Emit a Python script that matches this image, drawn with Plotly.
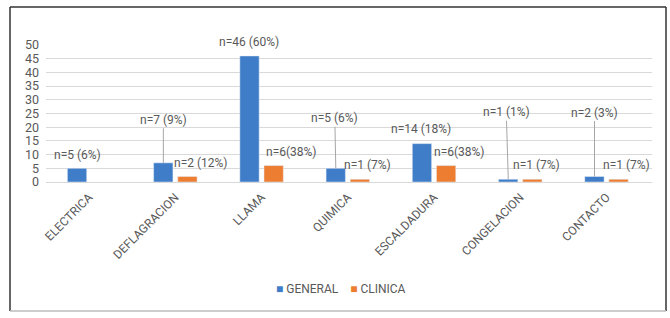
import plotly.graph_objects as go

categories = ["ELECTRICA", "DEFLAGRACION", "LLAMA", "QUIMICA", "ESCALDADURA", "CONGELACION", "CONTACTO"]
general = [5, 7, 46, 5, 14, 1, 2]
clinica = [None, 2, 6, 1, 6, 1, 1]
general_labels = ["n=5 (6%)", "n=7 (9%)", "n=46 (60%)", "n=5 (6%)", "n=14 (18%)", "n=1 (1%)", "n=2 (3%)"]
clinica_labels = [None, "n=2 (12%)", "n=6(38%)", "n=1 (7%)", "n=6(38%)", "n=1 (7%)", "n=1 (7%)"]
series_names = ["GENERAL", "CLINICA"]

BLUE = "#3F7DC9"
ORANGE = "#ED7D31"
TXT = "#595959"
FONT = "Roboto"

fig = go.Figure()
fig.add_trace(go.Bar(name=series_names[0], x=categories, y=general, marker_color=BLUE))
fig.add_trace(go.Bar(name=series_names[1], x=categories, y=clinica, marker_color=ORANGE))

gen_place = {  # idx: (xshift_from_bar, yshift_or_ay, leader)
    0: (0, 13, False),
    1: (0, -43, True),
    2: (-1, 14, False),
    3: (-1, -50, True),
    4: (-1, 15, False),
    5: (-2, -67, True),
    6: (0, -64, True),
}
cli_place = {
    1: (14, 13.5),
    2: (18, 13.5),
    3: (8, 14),
    4: (13, 13.5),
    5: (4, 14),
    6: (8, 14),
}

ann = []
for i, c in enumerate(categories):
    dx, dy, leader = gen_place[i]
    if leader:
        ann.append(dict(x=c, y=general[i], xref="x", yref="y", text=general_labels[i],
                        xshift=-12, showarrow=True, arrowhead=0, arrowwidth=1,
                        arrowcolor="#A6A6A6", ax=dx, ay=dy, standoff=0,
                        font=dict(family=FONT, size=12, color=TXT)))
    else:
        ann.append(dict(x=c, y=general[i], xref="x", yref="y", text=general_labels[i],
                        xshift=-12 + dx, yshift=dy, showarrow=False, yanchor="middle",
                        font=dict(family=FONT, size=12, color=TXT)))
    if clinica_labels[i] is not None:
        dx2, dy2 = cli_place[i]
        ann.append(dict(x=c, y=clinica[i], xref="x", yref="y", text=clinica_labels[i],
                        xshift=12 + dx2, yshift=dy2, showarrow=False, yanchor="middle",
                        font=dict(family=FONT, size=12, color=TXT)))

L, R, T, B = 46, 18, 45, 136
pw, ph = 670 - L - R, 318 - T - B


def px(xp):
    return (xp - L) / pw


def py(yp):
    return (318 - B - yp) / ph


# custom legend as text
legend_text = (f'<span style="color:{BLUE}">■</span> {series_names[0]}'
               f'&nbsp;&nbsp;&nbsp;&nbsp;<span style="color:{ORANGE}">■</span> {series_names[1]}')
ann.append(dict(x=px(341), y=py(289), xref="paper", yref="paper", text=legend_text, showarrow=False,
                xanchor="center", yanchor="middle",
                font=dict(family=FONT, size=12, color=TXT)))

box_l, box_r, box_t, box_b = 10, 666, 7, 311
shapes = [
    dict(type="line", xref="paper", yref="paper", x0=px(box_l), x1=px(box_l), y0=py(box_t), y1=py(box_b),
         line=dict(color="#333333", width=1.5)),
    dict(type="line", xref="paper", yref="paper", x0=px(box_r), x1=px(box_r), y0=py(box_t), y1=py(box_b),
         line=dict(color="#333333", width=1.5)),
    dict(type="line", xref="paper", yref="paper", x0=px(box_l), x1=px(box_r), y0=py(box_t), y1=py(box_t),
         line=dict(color="#333333", width=1.5)),
    dict(type="line", xref="paper", yref="paper", x0=px(box_l), x1=px(box_r), y0=py(box_b), y1=py(box_b),
         line=dict(color="#BDBDBD", width=1.5)),
]

fig.update_layout(
    width=670, height=318,
    margin=dict(l=L, r=R, t=T, b=B, autoexpand=False),
    paper_bgcolor="white", plot_bgcolor="white",
    barmode="group", bargap=0.44, bargroupgap=0.2,
    font=dict(family=FONT, color=TXT),
    showlegend=False,
    xaxis=dict(tickangle=-45, tickfont=dict(family=FONT, size=12, color=TXT),
               showline=False, showgrid=False, ticks="", automargin=False, ticklabelstandoff=5),
    yaxis=dict(range=[0, 50], dtick=5, showgrid=True, gridcolor="#D9D9D9",
               zeroline=True, zerolinecolor="#D9D9D9", zerolinewidth=1, automargin=False,
               tickfont=dict(family=FONT, size=12.5, color=TXT), ticks="", ticklabelstandoff=6),
    annotations=ann,
    shapes=shapes,
)
for t in fig.data:
    t.cliponaxis = False

fig.write_html("out.html", config={"displayModeBar": False},
               post_script="document.body.style.margin='0';document.body.style.overflow='hidden';")
